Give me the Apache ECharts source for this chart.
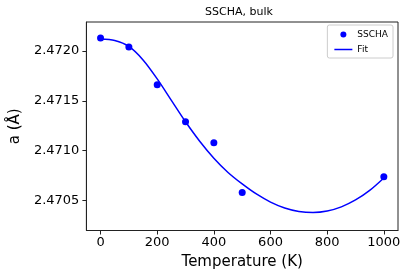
<!DOCTYPE html>
<html>
<head>
<meta charset="utf-8">
<script src="https://cdn.jsdelivr.net/npm/echarts@6/dist/echarts.min.js"></script>
<style>html,body{margin:0;padding:0;background:#fff}#c{width:407px;height:276px}</style>
</head>
<body>
<div id="c"></div>
<script>
// Data
const sschaT = [0, 100, 200, 300, 400, 500, 1000];
const sschaA = [2.47213, 2.47204, 2.47166, 2.47129, 2.47108, 2.47058, 2.47074];
const fitT = [0, 50, 100, 150, 200, 250, 300, 350, 400, 450, 500, 550, 600, 650, 700, 750, 800, 850, 900, 950, 1000];
const fitA = [2.47212, 2.472105, 2.472045, 2.47191, 2.47172, 2.471505, 2.47129, 2.471095, 2.470925, 2.470782, 2.470667, 2.470566, 2.470485, 2.470426, 2.470391, 2.47038, 2.470395, 2.470437, 2.470506, 2.470602, 2.470727];
const xTicks = [0, 200, 400, 600, 800, 1000];
const yTicks = [2.4705, 2.4710, 2.4715, 2.4720];

const chart = echarts.init(document.getElementById('c'), null, {renderer: 'canvas'});
const font = 'DejaVu Sans';
chart.setOption({
  animation: false,
  backgroundColor: '#fff',
  textStyle: {fontFamily: font},
  grid: {left: 80, right: 9, top: 22, bottom: 45.5, show: true, borderColor: '#222', borderWidth: 1, containLabel: false},
  graphic: [{type: 'text', x: 239, y: 12, style: {text: 'SSCHA, bulk', textAlign: 'center', textVerticalAlign: 'middle', fontFamily: font, fontSize: 11, fill: '#000'}}],
  legend: {
    orient: 'vertical', right: 14, top: 25, itemWidth: 18, itemHeight: 6, itemGap: 6,
    padding: [5, 5, 4, 7], borderColor: '#ccc', borderWidth: 1, borderRadius: 2,
    textStyle: {fontFamily: font, fontSize: 9, color: '#000'},
    data: [{name: 'SSCHA', icon: 'circle'}, {name: 'Fit', icon: 'path://M0,0H12V1H0Z'}]
  },
  xAxis: {
    type: 'value', min: -50, max: 1050,
    name: 'Temperature (K)', nameLocation: 'middle', nameGap: 21,
    nameTextStyle: {fontFamily: font, fontSize: 15, color: '#000'},
    axisLine: {show: true, onZero: false, lineStyle: {color: '#222'}},
    axisTick: {show: true, length: 4, customValues: xTicks, lineStyle: {color: '#222'}},
    axisLabel: {show: true, customValues: xTicks, margin: 6, fontFamily: font, fontSize: 13, color: '#000',
      formatter: v => String(v)},
    splitLine: {show: false}
  },
  yAxis: {
    type: 'value', min: 2.47020, max: 2.47229,
    name: 'a (Å)', nameLocation: 'middle', nameGap: 52, nameRotate: 90,
    nameTextStyle: {fontFamily: font, fontSize: 15, color: '#000'},
    axisLine: {show: true, onZero: false, lineStyle: {color: '#222'}},
    axisTick: {show: true, length: 4, customValues: yTicks, lineStyle: {color: '#222'}},
    axisLabel: {show: true, customValues: yTicks, margin: 7, fontFamily: font, fontSize: 13, color: '#000',
      formatter: v => v.toFixed(4)},
    splitLine: {show: false}
  },
  series: [
    {name: 'SSCHA', type: 'scatter', symbol: 'circle', symbolSize: 7, itemStyle: {color: '#0000ff', opacity: 1},
     data: sschaT.map((t, i) => [t, sschaA[i]]), z: 3},
    {name: 'Fit', type: 'line', symbol: 'none', showSymbol: false, smooth: 0.3, lineStyle: {color: '#0000ff', width: 1.5}, itemStyle: {color: '#0000ff'},
     data: fitT.map((t, i) => [t, fitA[i]]), z: 2}
  ]
});
</script>
</body>
</html>
